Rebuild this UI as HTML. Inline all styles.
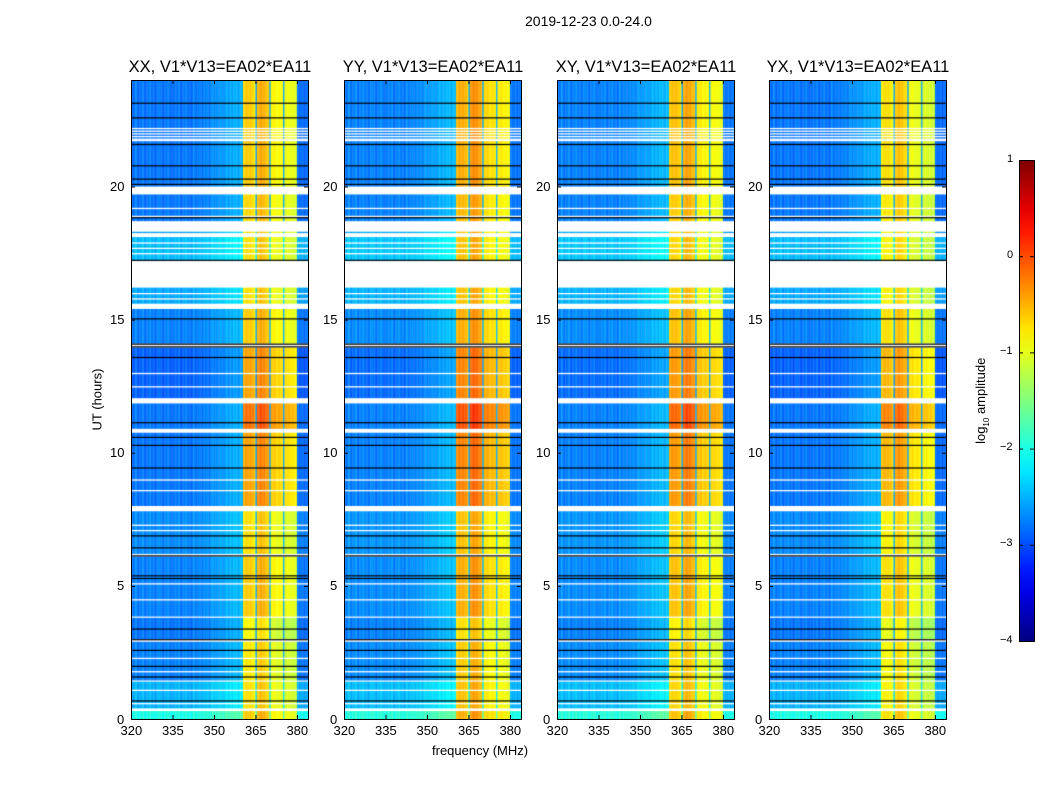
<!DOCTYPE html>
<html><head><meta charset="utf-8">
<style>
body{margin:0;background:#fff;font-family:"Liberation Sans",sans-serif;}
#root{position:relative;width:1050px;height:800px;overflow:hidden;background:#fff;}
.t{position:absolute;font-size:13px;color:#000;white-space:nowrap;}
.pt{position:absolute;font-size:16.5px;color:#000;white-space:nowrap;transform:translateX(-50%);}
canvas{position:absolute;}
svg{position:absolute;left:0;top:0;}
</style></head>
<body>
<div id="root">
<div class="t" style="left:525px;top:13px;font-size:14px">2019-12-23 0.0-24.0</div>
<div class="t" style="left:432px;top:743px">frequency (MHz)</div>
<div class="t" style="left:65px;top:392px;transform:rotate(-90deg);transform-origin:center;width:64px;text-align:center">UT (hours)</div>
<div class="t" style="left:932px;top:392px;transform:rotate(-90deg);width:100px;text-align:center">log<sub style="font-size:8px">10</sub> amplitude</div>
<svg id="ov" width="1050" height="800"><defs id="dfs"></defs></svg>
</div>
<script>
// ---- data ----
const panelTitles = ["XX, V1*V13=EA02*EA11","YY, V1*V13=EA02*EA11","XY, V1*V13=EA02*EA11","YX, V1*V13=EA02*EA11"];
const panelRfiOffset = [0, 0.15, 0.05, -0.1];
const panelBgOffset = [0, 0.05, 0.05, 0];
const xTicks = [320,335,350,365,380];
const yTicks = [0,5,10,15,20];
const cbTicks = [1,0,-1,-2,-3,-4];
// channel levels at 0.5 MHz, 320..383.5 (128 channels)
const channelLevel = [
 -2.8,-2.9,-2.8,-2.7,-2.8,-2.9,-2.8,-2.8,-2.7,-2.8,-2.9,-2.8,-2.8,-2.7,-2.8,-2.8,
 -2.8,-2.9,-2.8,-2.8,-2.7,-2.8,-2.8,-2.9,-2.8,-2.8,-2.7,-2.8,-2.8,-2.9,-2.8,-2.8,
 -2.8,-2.8,-2.7,-2.8,-2.9,-2.8,-2.8,-2.7,-2.8,-2.8,-2.8,-2.9,-2.8,-2.7,-2.8,-2.8,
 -2.8,-2.7,-2.8,-2.8,-2.7,-2.8,-2.7,-2.7,-2.8,-2.7,-2.7,-2.6,-2.7,-2.7,-2.6,-2.7,
 -2.6,-2.6,-2.7,-2.6,-2.6,-2.5,-2.6,-2.6,-2.5,-2.6,-2.5,-2.5,-2.5,-2.6,-2.5,-2.5,
 -2.5,-0.8,-0.75,-0.7,-0.7,-0.75,-0.7,-0.75,-0.8,-0.9,-2.6,-0.65,-0.6,-0.55,-0.55,-0.6,
 -0.6,-0.65,-0.7,-0.75,-2.6,-0.95,-0.95,-0.9,-0.95,-1.0,-1.0,-0.95,-1.0,-1.05,-2.6,-1.05,
 -1.05,-1.0,-1.05,-1.1,-1.05,-1.1,-1.1,-1.15,-2.8,-2.9,-2.8,-2.9,-2.8,-2.9,-2.9,-2.8];
// time segments: [startHour, endHour, bgOffset, rfiOffset]; gaps are flagged (white)
const segments = [[0,0.3,0.8,0.1],[0.4,1.4,0.3,0],[1.45,2.9,0.05,-0.05],[3.0,3.8,0,-0.15],
 [3.85,6.1,0.05,0.1],[6.2,7.8,0.1,0],[8.0,10.75,0,0.3],[10.9,11.85,0,0.55],[12.05,13.95,-0.1,0.3],
 [14.1,15.4,0.05,0.1],[15.6,16.2,0.25,0],[17.2,18.1,0.35,0],[18.25,18.3,0.2,0],[18.7,19.7,0,0.05],[20.0,24,0,0.1]];
const whiteLines = [0.6,1.1,1.8,2.3,4.5,5.1,7.1,7.3,8.6,9.0,12.5,13.0,15.8,16.0,17.5,17.7,17.9,18.9,19.2,21.75,21.8,21.9,22.0,22.1,22.2];
const blackLines = [0.7,1.6,2.0,2.6,3.0,3.4,5.3,5.4,6.15,6.45,6.9,9.45,10.3,10.6,11.15,13.6,14.0,14.1,15.05,17.25,18.85,20.1,20.3,20.8,21.6,22.6,23.15];
// ---- layout ----
const panelX = [131,344,557,769], pw = 177, pTop = 80, pBot = 719;
const fMin = 320, fMax = 384, chW = 0.5;
const xs = f => (f-fMin)*(pw/(fMax-fMin));
const ys = h => pBot - h*(pBot-pTop)/24;
function jet(v){
  const r=Math.min(1,Math.max(0,Math.min(4*v-1.5,-4*v+4.5)));
  const g=Math.min(1,Math.max(0,Math.min(4*v-0.5,-4*v+3.5)));
  const b=Math.min(1,Math.max(0,Math.min(4*v+0.5,-4*v+2.5)));
  return `rgb(${r*255|0},${g*255|0},${b*255|0})`;
}
const cmap = L => jet((L+4)/5);
const root=document.getElementById('root');
const ov=document.getElementById('ov');
const NS='http://www.w3.org/2000/svg';
function sv(tag,attrs,parent){const e=document.createElementNS(NS,tag);for(const k in attrs)e.setAttribute(k,attrs[k]);(parent||ov).appendChild(e);return e;}
panelX.forEach((px,p)=>{
  const c=document.createElement('canvas');
  c.width=pw;c.height=pBot-pTop;c.style.left=px+'px';c.style.top=pTop+'px';
  
  
  root.insertBefore(c, ov);
  const ctx=c.getContext('2d');
  ctx.fillStyle='#fff';ctx.fillRect(0,0,pw,pBot-pTop);
  segments.forEach(s=>{
    const y0=ys(s[1])-pTop,y1=ys(s[0])-pTop;
    channelLevel.forEach((L,ci)=>{
      const rfi=L>-1.7;
      const v=L+(rfi?s[3]+panelRfiOffset[p]:s[2]+panelBgOffset[p]);
      ctx.fillStyle=cmap(v);
      const x0=xs(fMin+ci*chW),x1=xs(fMin+(ci+1)*chW);
      ctx.fillRect(x0,y0,x1-x0+0.3,y1-y0);
    });
  });
  ctx.fillStyle='#fff';
  whiteLines.forEach(h=>ctx.fillRect(0,ys(h)-pTop,pw,1.3));
  ctx.fillStyle='#000';
  blackLines.forEach(h=>ctx.fillRect(0,ys(h)-pTop,pw,1.2));
  const fr=sv('rect',{x:px+0.5,y:pTop+0.5,width:pw,height:pBot-pTop,fill:'none',stroke:'#000','stroke-width':1});
  
  
  xTicks.forEach(t=>{const x=px+xs(t)+0.5;
    sv('line',{x1:x,x2:x,y1:pBot,y2:pBot-4,stroke:'#000'});sv('line',{x1:x,x2:x,y1:pTop,y2:pTop+4,stroke:'#000'});
    const d=document.createElement('div');d.className='t';d.textContent=t;
    
    
    d.style.left=(x-11)+'px';d.style.top=(pBot+4)+'px';root.appendChild(d);});
  yTicks.forEach(t=>{const y=ys(t)+0.5;
    sv('line',{x1:px,x2:px+4,y1:y,y2:y,stroke:'#000'});sv('line',{x1:px+pw,x2:px+pw-4,y1:y,y2:y,stroke:'#000'});
    const d=document.createElement('div');d.className='t';d.textContent=t;
    
    
    d.style.left=(px-6-(t>=10?15:8))+'px';d.style.top=(y-8)+'px';root.appendChild(d);});
  const tt=document.createElement('div');tt.className='pt';tt.textContent=panelTitles[p];
  
  
  tt.style.left=(px+pw/2+0.5)+'px';tt.style.top='58px';root.appendChild(tt);
});
// colorbar
const cbx=1019,cbw=15,cbt=160,cbb=641;
const dfs=document.getElementById('dfs');
const grad=sv('linearGradient',{id:'jg',x1:0,y1:1,x2:0,y2:0},dfs);
for(let i=0;i<=20;i++){sv('stop',{offset:i/20,'stop-color':jet(i/20)},grad);}
const cb=sv('rect',{x:cbx+0.5,y:cbt+0.5,width:cbw,height:cbb-cbt,fill:'url(#jg)',stroke:'#000'});


cbTicks.forEach(t=>{const y=cbb-(t+4)/5*(cbb-cbt)+0.5;
  sv('line',{x1:cbx,x2:cbx+4,y1:y,y2:y,stroke:'#000'});sv('line',{x1:cbx+cbw,x2:cbx+cbw-4,y1:y,y2:y,stroke:'#000'});
  const d=document.createElement('div');d.className='t';d.textContent=t<0?'\u2212'+(-t):t;
  
  
  d.style.left=(t<0?1000:1007)+'px';d.style.top=(y-8)+'px';d.style.fontSize='11px';root.appendChild(d);});
</script>
</body></html>
